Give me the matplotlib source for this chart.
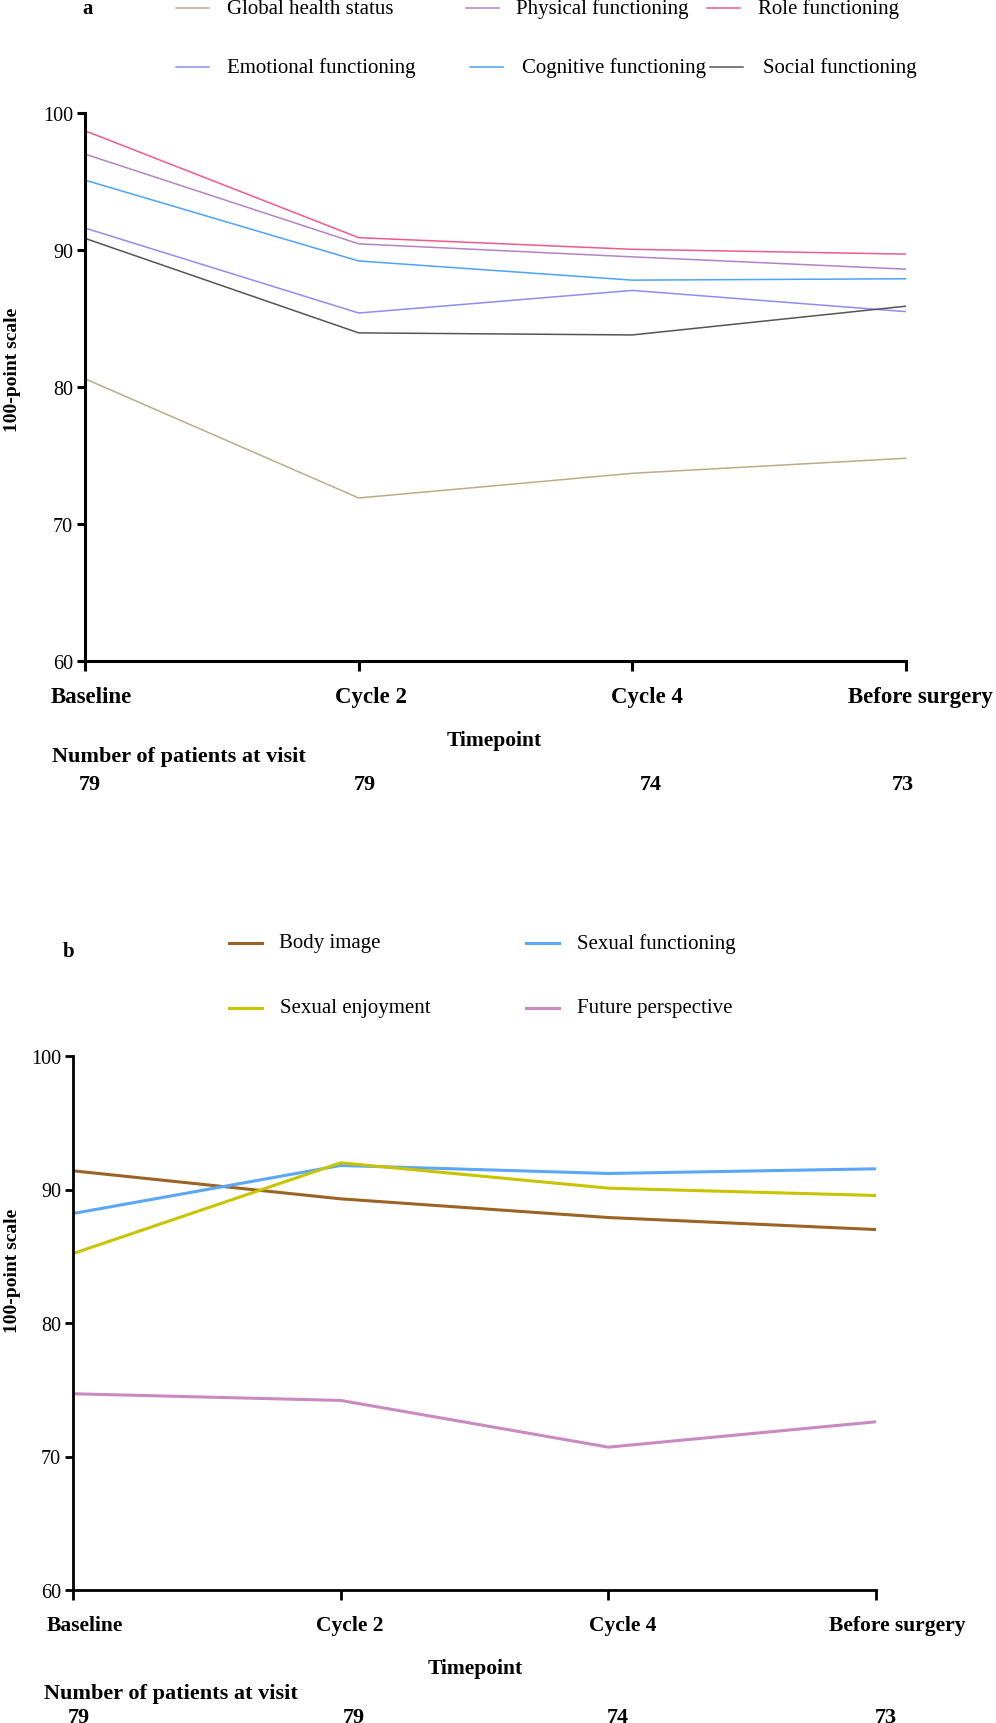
import matplotlib
matplotlib.use("Agg")
from matplotlib import pyplot as plt
from matplotlib.lines import Line2D
from matplotlib.transforms import blended_transform_factory, ScaledTranslation

plt.rcParams['font.family'] = ['Liberation Serif', 'DejaVu Serif']

# data
timepoints = ['Baseline', 'Cycle 2', 'Cycle 4', 'Before surgery']
patients = [79, 79, 74, 73]

a_names = ['Global health status', 'Physical functioning', 'Role functioning',
           'Emotional functioning', 'Cognitive functioning', 'Social functioning']
a_global = [80.6, 71.9, 73.7, 74.8]
a_physical = [97.0, 90.45, 89.5, 88.6]
a_role = [98.7, 90.9, 90.05, 89.7]
a_emotional = [91.6, 85.4, 87.05, 85.5]
a_cognitive = [95.1, 89.2, 87.8, 87.9]
a_social = [90.85, 83.95, 83.8, 85.9]
a_values = [a_global, a_physical, a_role, a_emotional, a_cognitive, a_social]
a_colors = ['#B8AE86', '#B482C8', '#F0598C', '#8F8CF5', '#4CA2FF', '#555555']

b_names = ['Body image', 'Sexual functioning', 'Sexual enjoyment', 'Future perspective']
b_body = [91.4, 89.3, 87.9, 87.0]
b_sexfunc = [88.2, 91.8, 91.2, 91.55]
b_sexenj = [85.2, 92.0, 90.1, 89.55]
b_future = [74.7, 74.2, 70.7, 72.6]
b_values = [b_body, b_sexfunc, b_sexenj, b_future]
b_colors = ['#9C6424', '#5AA7F7', '#C8C400', '#C88AC0']

W, H = 996, 1724
fig = plt.figure(figsize=(W / 100, H / 100), dpi=100)


def fx(x):
    return x / W


def fy(y):
    return 1 - y / H


def make_axes(left, right, top, bottom, spine_w, lab_fs, lab_shift):
    ax = fig.add_axes([fx(left), fy(bottom), fx(right - left), (bottom - top) / H])
    ax.set_xlim(0, 3)
    ax.set_ylim(60, 100)
    ax.set_yticks([60, 70, 80, 90, 100])
    ax.set_xticks(range(4))
    ax.set_xticklabels(timepoints, fontweight='bold', fontsize=lab_fs)
    ax.spines['top'].set_visible(False)
    ax.spines['right'].set_visible(False)
    for s in ['left', 'bottom']:
        ax.spines[s].set_linewidth(spine_w)
    ax.tick_params(axis='x', length=7, width=spine_w, pad=11)
    ax.tick_params(axis='y', length=5.5, width=spine_w, pad=3, labelsize=14.5)
    # the tick labels sit a little right of their ticks in the original
    for lab, dx in zip(ax.get_xticklabels(), lab_shift):
        lab.set_transform(lab.get_transform() + ScaledTranslation(dx / 100, 0, fig.dpi_scale_trans))
    return ax


def legend_item(x_line, x_text, y, color, lw, label, fs):
    fig.add_artist(Line2D([fx(x_line), fx(x_line + 33)], [fy(y), fy(y)],
                          color=color, lw=lw, transform=fig.transFigure))
    fig.text(fx(x_text), fy(y), label, fontsize=fs, va='center', ha='left')


def counts_row(ax, y, shifts):
    tr = blended_transform_factory(ax.transData, fig.transFigure)
    for i, (n, dx) in enumerate(zip(patients, shifts)):
        t = ax.text(i, fy(y), str(n), transform=tr, fontweight='bold', fontsize=16,
                    ha='center', va='center')
        t.set_transform(tr + ScaledTranslation(dx / 100, 0, fig.dpi_scale_trans))


# ---------- panel a ----------
ax1 = make_axes(85, 906, 114, 662, 2.2, 16.5, [6, 12, 15, 14])
for vals, col in zip(a_values, a_colors):
    ax1.plot(range(4), vals, color=col, lw=1.1)

fig.text(fx(88), fy(9), 'a', fontweight='bold', fontsize=15, ha='center', va='center')
a_leg_pos = [(176, 227, 9), (466, 516, 9), (707, 758, 9),
             (176, 227, 68), (470, 522, 68), (710, 763, 68)]
for (xl, xt, yy), col, name in zip(a_leg_pos, a_colors, a_names):
    legend_item(xl, xt, yy, col, 1.1, name, 15)

fig.text(fx(13), fy(370), '100-point scale', rotation=90, fontweight='bold',
         fontsize=14, ha='center', va='center')
fig.text(fx(494), fy(741), 'Timepoint', fontweight='bold', fontsize=15.5, ha='center', va='center')
fig.text(fx(52), fy(757), 'Number of patients at visit', fontweight='bold', fontsize=16,
         ha='left', va='center')
counts_row(ax1, 785, [5, 6, 18, -3])

# ---------- panel b ----------
ax2 = make_axes(73, 876, 1057, 1591, 2.0, 15.5, [12, 9, 14, 21])
for vals, col in zip(b_values, b_colors):
    ax2.plot(range(4), vals, color=col, lw=2.2)

fig.text(fx(69), fy(952), 'b', fontweight='bold', fontsize=15, ha='center', va='center')
b_leg_pos = [(229, 279, 944), (526, 577, 944), (229, 280, 1009), (526, 577, 1009)]
for (xl, xt, yy), col, name in zip(b_leg_pos, b_colors, b_names):
    legend_item(xl, xt, yy, col, 2.2, name, 15)

fig.text(fx(13), fy(1271), '100-point scale', rotation=90, fontweight='bold',
         fontsize=14, ha='center', va='center')
fig.text(fx(475), fy(1669), 'Timepoint', fontweight='bold', fontsize=15.5, ha='center', va='center')
fig.text(fx(44), fy(1694), 'Number of patients at visit', fontweight='bold', fontsize=16,
         ha='left', va='center')
counts_row(ax2, 1718, [6, 13, 9, 10])

fig.savefig('out.png', dpi=100)
